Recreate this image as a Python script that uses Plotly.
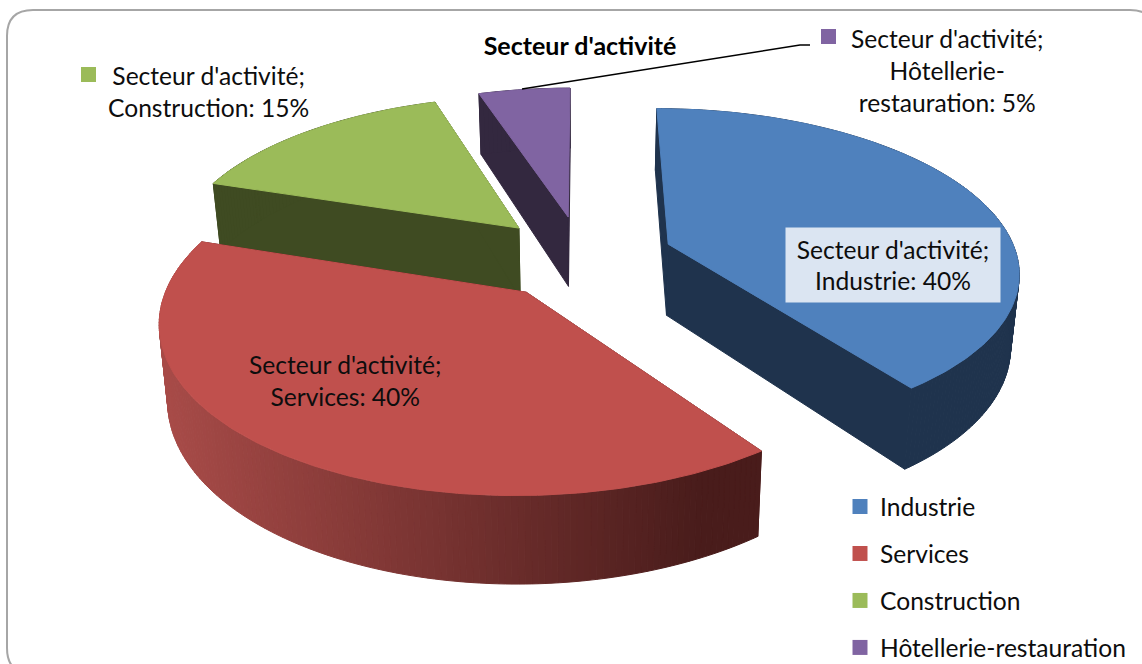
import numpy as np
import plotly.graph_objects as go

# --- data ---
title = "Secteur d'activité"
categories = ["Industrie", "Services", "Construction", "Hôtellerie-restauration"]
shares = [40, 40, 15, 5]
top_colors = ["#4f81bd", "#c0504d", "#9bbb59", "#8064a2"]
cut_colors = ["#1f334d", "#4f1e1c", "#3f4b22", "#33283f"]

# --- perspective of the pie (pixels) ---
CX, CY = 582, 257
RX = 349
RY = 160
DEPTH = 6.5
THICK = 72
LEAN = 0.02
PULL = 0.263


def project(x, y, drop=0.0):
    s = DEPTH / (DEPTH + y)
    sx = CX + RX * x * s
    sy = CY - RY * DEPTH * (1 - s)
    if drop:
        sy = sy + THICK * s
        sx = sx - (sx - CX) * LEAN
    return sx, sy


def hex_mix(c1, c2, t):
    a = [int(c1[i:i + 2], 16) for i in (1, 3, 5)]
    b = [int(c2[i:i + 2], 16) for i in (1, 3, 5)]
    return "rgb(%d,%d,%d)" % tuple(round(p + (q - p) * t) for p, q in zip(a, b))


def poly(xs, ys, color):
    return go.Scatter(x=xs, y=ys, mode="lines", fill="toself", fillcolor=color,
                      line=dict(color=color, width=1), showlegend=False, hoverinfo="skip")


fig = go.Figure()

# angles clockwise from the far side
edges = np.cumsum([0] + shares) * 3.6
slices = []
for i, cat in enumerate(categories):
    a0, a1 = np.radians(edges[i]), np.radians(edges[i + 1])
    mid = (a0 + a1) / 2
    slices.append((i, a0, a1, PULL * np.sin(mid), PULL * np.cos(mid)))

# painter's order: far slices first
for i, a0, a1, ox, oy in [slices[3], slices[2], slices[0], slices[1]]:
    n = int(round(shares[i] * 4)) + 2
    t = np.linspace(a0, a1, n)
    ax, ay = ox + np.sin(t), oy + np.cos(t)
    base = cut_colors[i]

    # cut faces
    for a in (a0, a1):
        ex, ey = ox + np.sin(a), oy + np.cos(a)
        x1, y1 = project(ox, oy)
        x2, y2 = project(ex, ey)
        x3, y3 = project(ex, ey, 1)
        x4, y4 = project(ox, oy, 1)
        fig.add_trace(poly([x1, x2, x3, x4, x1], [y1, y2, y3, y4, y1], base))

    # outer wall in thin strips, the red one fades from left to right
    for k in range(len(t) - 1):
        xa, ya = project(ax[k:k + 2], ay[k:k + 2])
        xb, yb = project(ax[k:k + 2], ay[k:k + 2], 1)
        color = base
        if i == 1:
            f = np.clip((xa.mean() - 160) / (700 - 160), 0, 1)
            color = hex_mix("#a84b48", "#491c1b", f)
        fig.add_trace(poly(list(xa) + list(xb[::-1]) + [xa[0]],
                           list(ya) + list(yb[::-1]) + [ya[0]], color))

    # top face
    tx, ty = project(ax, ay)
    x0, y0 = project(ox, oy)
    fig.add_trace(poly([x0] + list(tx) + [x0], [y0] + list(ty) + [y0], top_colors[i]))

# legend entries
for cat, color in zip(categories, top_colors):
    fig.add_trace(go.Scatter(x=[None], y=[None], mode="markers", name=cat, legendgroup=cat,
                             marker=dict(symbol="square", size=15, color=color)))

FONT = "Lato, Carlito, sans-serif"
label_font = dict(family=FONT, size=24.6, color="#0d0d0d")


def label(x, y, cat, share, **kw):
    fig.add_annotation(x=x, y=y, text="%s;<br>%s: %d%%" % (title, cat, share), showarrow=False,
                       font=label_font, align="center", **kw)


label(893, 265, categories[0], shares[0], bgcolor="#dbe5f2", width=212, height=72)
label(345, 380, categories[1], shares[1])
label(208, 91, categories[2], shares[2])
fig.add_annotation(x=947, y=70, text="%s;<br>%s-<br>%s: %d%%" % (title, *categories[3].split("-"), shares[3]),
                   showarrow=False, font=label_font, align="center")

fig.update_layout(
    width=1142, height=664,
    margin=dict(l=0, r=0, t=0, b=0, autoexpand=False),
    paper_bgcolor="white", plot_bgcolor="white",
    xaxis=dict(range=[0, 1142], visible=False, fixedrange=True),
    yaxis=dict(range=[664, 0], visible=False, fixedrange=True),
    title=dict(text="<b>%s</b>" % title, x=580 / 1142, y=1 - 46 / 664, xanchor="center", yanchor="middle",
               font=dict(family=FONT, size=25, color="#000000")),
    legend=dict(x=840 / 1142, y=1 - 484 / 664, xanchor="left", yanchor="top", tracegroupgap=12,
                font=dict(family=FONT, size=24.6, color="#0d0d0d"),
                bgcolor="rgba(0,0,0,0)"),
    shapes=[
        # chart frame, runs off the photographed area
        dict(type="path", path="M 33 674 Q 7 674 7 648 L 7 36 Q 7 10 33 10 L 1130 10 Q 1156 10 1156 36",
             line=dict(color="#a6a6a6", width=2), layer="below"),
        # leader line of the purple label
        dict(type="path", path="M 522 89 L 800 45 L 810 45", line=dict(color="#000000", width=1.5)),
        # label keys
        dict(type="rect", x0=81, x1=96, y0=67, y1=82, fillcolor=top_colors[2], line_width=0),
        dict(type="rect", x0=821, x1=836, y0=29, y1=44, fillcolor=top_colors[3], line_width=0),
    ],
)

# the page's default body margin would push the 1142x664 plot off the window
fig.write_html("out.html", config=dict(displayModeBar=False),
               post_script="document.body.style.margin='0';document.body.style.overflow='hidden';")
